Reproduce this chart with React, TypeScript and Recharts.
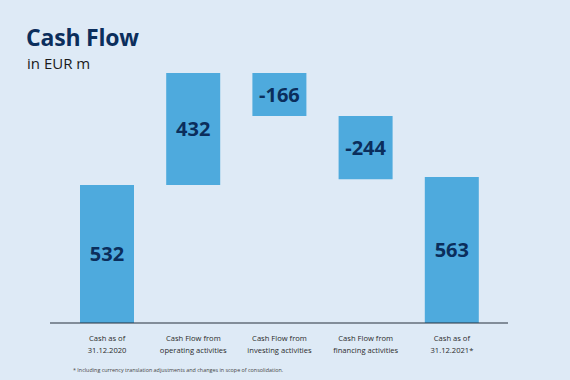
import { BarChart, Bar, XAxis, YAxis, LabelList } from 'recharts'

const CATEGORIES = [
  ['Cash as of', '31.12.2020'],
  ['Cash Flow from', 'operating activities'],
  ['Cash Flow from', 'investing activities'],
  ['Cash Flow from', 'financing activities'],
  ['Cash as of', '31.12.2021*'],
]
const VALUES = [532, 432, -166, -244, 563]
const KINDS = ['total', 'flow', 'flow', 'flow', 'total']

const BG = '#deeaf6'
const BAR = '#4eaadd'
const NAVY = '#0b2e5c'

let running = 0
const data = VALUES.map((v, i) => {
  let range: [number, number]
  if (KINDS[i] === 'total') {
    range = [0, v]
    running = v
  } else {
    const next = running + v
    range = [Math.min(running, next), Math.max(running, next)]
    running = next
  }
  return { name: CATEGORIES[i].join(' '), range, value: v }
})

const Tick = (props: any) => {
  const { x, y, payload } = props
  const lines = CATEGORIES[payload.index] ?? []
  return (
    <g transform={`translate(${x},${y})`}>
      {lines.map((l, i) => (
        <text key={i} x={0} y={10 + i * 11.5} textAnchor="middle" fontSize={7.6} fill="#2b2b2b" fontFamily="'Open Sans', sans-serif">
          {l}
        </text>
      ))}
    </g>
  )
}

export default function App() {
  return (
    <div style={{ position: 'absolute', left: 0, top: 0, width: 570, height: 380, background: BG, fontFamily: "'Open Sans', sans-serif" }}>
      <div style={{ position: 'absolute', left: 26, top: 26, fontSize: 23, lineHeight: '23px', fontWeight: 700, color: NAVY, letterSpacing: -0.2 }}>Cash Flow</div>
      <div style={{ position: 'absolute', left: 27, top: 56, fontSize: 15, lineHeight: '15px', color: '#1a1a1a' }}>in EUR m</div>
      <BarChart width={570} height={380} data={data} margin={{ top: 73, right: 62, bottom: 17, left: 50 }} barSize={54}>
        <XAxis
          dataKey="name"
          height={40}
          interval={0}
          tickLine={false}
          axisLine={{ stroke: '#26303c', strokeWidth: 1 }}
          tick={<Tick />}
          padding={{ left: 14, right: 13 }}
        />
        <YAxis hide domain={[0, 964]} />
        <Bar dataKey="range" fill={BAR} isAnimationActive={false}>
          <LabelList dataKey="value" position="center" fill={NAVY} fontSize={20} fontWeight={700} fontFamily="'Open Sans', sans-serif" />
        </Bar>
      </BarChart>
      <div style={{ position: 'absolute', left: 73, top: 366, fontSize: 5.4, color: '#444' }}>
        * Including currency translation adjustments and changes in scope of consolidation.
      </div>
    </div>
  )
}
